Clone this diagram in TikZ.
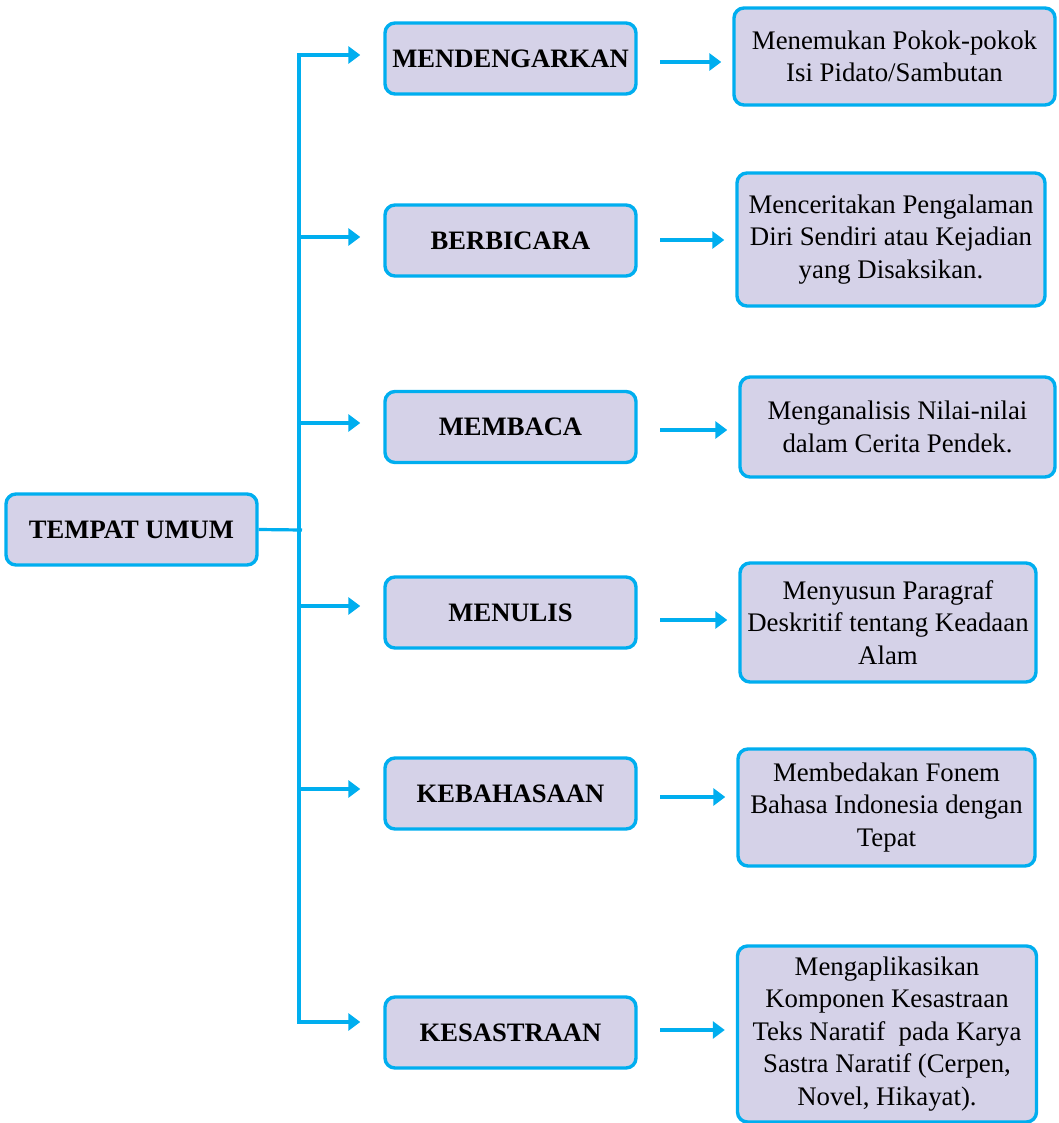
\documentclass[tikz,border=0pt]{standalone}
\usepackage{fontspec}
\setmainfont{Liberation Serif}
\usetikzlibrary{arrows.meta,positioning}
\definecolor{linecyan}{RGB}{0,174,239}
\definecolor{boxfill}{RGB}{213,210,232}
\tikzset{
  topic/.style={draw=linecyan,line width=3.4pt,fill=boxfill,rounded corners=10pt,
    minimum width=251pt,minimum height=71pt,font=\fontsize{26.6}{32}\selectfont\bfseries},
  goal/.style={draw=linecyan,line width=3.4pt,fill=boxfill,rounded corners=10pt,
    align=center,inner sep=2pt,font=\fontsize{26.8}{32.5}\selectfont},
  link/.style={linecyan,line width=3.2pt},
  arr/.style={link,-{Triangle[length=12pt,width=17pt]}}
}

\begin{document}
\begin{tikzpicture}[x=1pt,y=-1pt]
  \useasboundingbox (0,0) rectangle (1058,1123);

  \node[topic] (root) at (131.5,529.5) {TEMPAT UMUM};

  \node[topic] (m1) at (510.5,58.5) {MENDENGARKAN};
  \node[topic] (m2) at (510.5,240.5) {BERBICARA};
  \node[topic] (m3) at (510.5,427) {MEMBACA};
  \node[topic] (m4) at (510.5,612.5) {MENULIS};
  \node[topic] (m5) at (510.5,793.5) {KEBAHASAAN};
  \node[topic] (m6) at (510.5,1032.5) {KESASTRAAN};

  \node[goal,minimum width=321pt,minimum height=97pt] (r1) at (894.5,56.5)
    {Menemukan Pokok-pokok\\Isi Pidato/Sambutan};
  \node[goal,minimum width=308pt,minimum height=133pt] (r2) at (891,239.5)
    {Menceritakan Pengalaman\\Diri Sendiri atau Kejadian\\yang Disaksikan.};
  \node[goal,minimum width=315pt,minimum height=100pt] (r3) at (897.5,427)
    {Menganalisis Nilai-nilai\\dalam Cerita Pendek.};
  \node[goal,minimum width=296pt,minimum height=119pt] (r4) at (888,622.5)
    {Menyusun Paragraf\\Deskritif tentang Keadaan\\Alam};
  \node[goal,minimum width=297pt,minimum height=117pt] (r5) at (886.5,807.5)
    {Membedakan Fonem\\Bahasa Indonesia dengan\\Tepat};
  \node[goal,minimum width=299pt,minimum height=176pt] (r6) at (887,1034)
    {Mengaplikasikan\\Komponen Kesastraan\\Teks Naratif\ \ pada Karya\\Sastra Naratif (Cerpen,\\Novel, Hikayat).};

  % trunk and branches
  \coordinate (hub) at (302,530);
  \coordinate (b1) at (299,55);
  \coordinate (b2) at (299,237);
  \coordinate (b3) at (299,423);
  \coordinate (b4) at (299,606);
  \coordinate (b5) at (299,789);
  \coordinate (b6) at (299,1022);
  \draw[link] (root.east) -- (hub);
  \draw[link,line cap=rect] (b1) -- (b6);
  \draw[arr,shorten >=23pt] (b1) -- (b1 -| m1.west);
  \draw[arr,shorten >=23pt] (b2) -- (b2 -| m2.west);
  \draw[arr,shorten >=23pt] (b3) -- (b3 -| m3.west);
  \draw[arr,shorten >=23pt] (b4) -- (b4 -| m4.west);
  \draw[arr,shorten >=23pt] (b5) -- (b5 -| m5.west);
  \draw[arr,shorten >=23pt] (b6) -- (b6 -| m6.west);

  % skill to goal
  \coordinate (c1) at (660,62);
  \coordinate (c2) at (660,240);
  \coordinate (c3) at (660,430);
  \coordinate (c4) at (660,620);
  \coordinate (c5) at (660,797);
  \coordinate (c6) at (660,1030);
  \draw[arr,shorten >=11pt] (c1) -- (c1 -| r1.west);
  \draw[arr,shorten >=11pt] (c2) -- (c2 -| r2.west);
  \draw[arr,shorten >=11pt] (c3) -- (c3 -| r3.west);
  \draw[arr,shorten >=11pt] (c4) -- (c4 -| r4.west);
  \draw[arr,shorten >=11pt] (c5) -- (c5 -| r5.west);
  \draw[arr,shorten >=11pt] (c6) -- (c6 -| r6.west);
\end{tikzpicture}
\end{document}
